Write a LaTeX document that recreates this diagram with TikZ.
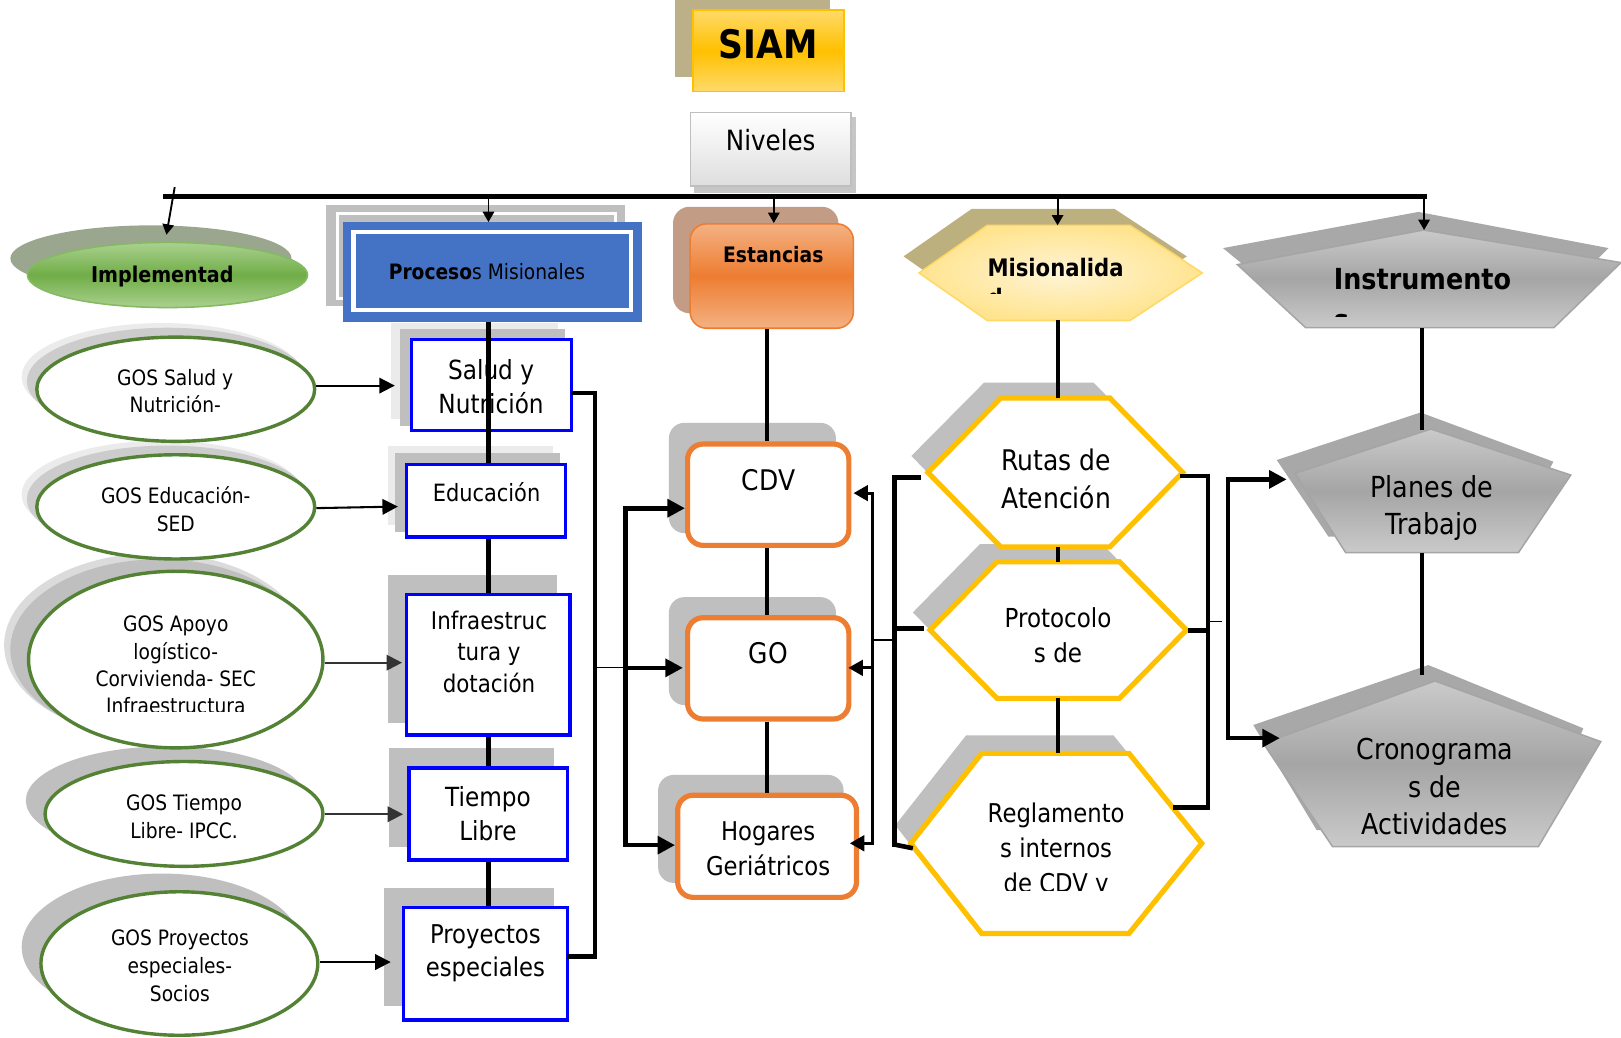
\documentclass[tikz,border=0pt]{standalone}
\usepackage{fontspec}
\setmainfont[FakeStretch=0.88]{DejaVu Sans}
\usetikzlibrary{shapes.geometric,arrows.meta,calc}
\definecolor{siamY}{HTML}{FFC000}
\definecolor{siamL}{HTML}{FFDA6A}
\definecolor{siamSh}{HTML}{BCB088}
\definecolor{nivB}{HTML}{BFBFBF}
\definecolor{nivSh}{HTML}{C6C6C6}
\definecolor{grnD}{HTML}{70AD47}
\definecolor{grnL}{HTML}{AAD18F}
\definecolor{grnSh}{HTML}{9BA68F}
\definecolor{procB}{HTML}{4472C4}
\definecolor{shGray}{HTML}{BFBFBF}
\definecolor{shLight}{HTML}{EBEBEB}
\definecolor{estO}{HTML}{ED7D31}
\definecolor{estL}{HTML}{F4B183}
\definecolor{estSh}{HTML}{C29C85}
\definecolor{misL}{HTML}{FFF4D6}
\definecolor{misD}{HTML}{FFE48F}
\definecolor{misB}{HTML}{FFD966}
\definecolor{misSh}{HTML}{BDB07F}
\definecolor{insL}{HTML}{CACACA}
\definecolor{insD}{HTML}{A5A5A5}
\definecolor{insSh}{HTML}{A8A8A8}
\definecolor{ellB}{HTML}{548235}
\definecolor{boxB}{HTML}{0000FF}
\definecolor{hexB}{HTML}{FFC000}
\newcommand\myfs[2]{\fontsize{#1}{#2}\selectfont}
\begin{document}
\begin{tikzpicture}[x=1pt,y=-1pt,
  vline/.style={line width=4pt},
  bracket/.style={line width=4.5pt, line cap=rect},
  thinl/.style={line width=1.2pt},
  toparr/.style={line width=1.8pt, -{Triangle[length=10pt,width=11pt]}},
  earr/.style={line width=2pt, -{Triangle[length=15pt,width=15pt]}},
  barr/.style={line width=4.5pt, -{Triangle[length=17pt,width=17pt]}},
  rarr/.style={line width=3pt, -{Triangle[length=14pt,width=15pt]}},
  bluebox/.style={rectangle, draw=boxB, line width=3.2pt, fill=white, inner sep=0pt},
  obox/.style={rectangle, rounded corners=15pt, draw=estO, line width=5pt, fill=white, inner sep=0pt},
  gosell/.style={ellipse, draw=ellB, line width=3.3pt, fill=white, inner sep=0pt},
  hexline/.style={draw=hexB, line width=5pt, fill=white},
  pentline/.style={draw=insD, line width=1.5pt, top color=insL, bottom color=insL, middle color=insD},
  lbl/.style={inner sep=0pt, align=center},
  etext/.style={lbl, font=\myfs{20.5}{26.8}},
  btext/.style={lbl, font=\myfs{25.5}{33.5}},
]
\useasboundingbox (0,0) rectangle (1568,1004);
\fill[white] (0,0) rectangle (1568,1004);

% ================= SIAM and Niveles
\fill[siamSh] (653,0) rectangle (803,74);
\node[rectangle, draw=siamY, line width=1.5pt, top color=siamL, bottom color=siamL, middle color=siamY,
      minimum width=146pt, minimum height=79pt, inner sep=0pt] (siam) at (743.5,49) {};
\node[lbl, font=\myfs{38}{40}\bfseries] (siamt) at (743.2,42.6) {SIAM};

\fill[nivSh] (671.5,113) rectangle (828,186.5);
\node[rectangle, draw=nivB, line width=1.5pt, top color=white, bottom color=black!13,
      minimum width=155pt, minimum height=71pt, inner sep=0pt] (niv) at (745.6,144.3) {};
\node[lbl, font=\myfs{27}{30}] (nivt) at (745.5,135.5) {Niveles};

% ================= top level shapes
% Implementad
\fill[grnSh] (146,250) ellipse [x radius=136, y radius=32];
\node[ellipse, draw=grnD!85!white, line width=1.5pt, top color=grnL, bottom color=grnL, middle color=grnD,
      minimum width=271pt, minimum height=63pt, inner sep=0pt] (impl) at (162,266) {};
\node[lbl, font=\myfs{21}{24}\bfseries] (implt) at (157,267.5) {Implementad};

% Procesos Misionales
\fill[shGray] (315.5,198) rectangle (604.6,296);
\draw[white, line width=3pt] (326.5,206.5) rectangle (595,288.5);
\node[rectangle, fill=procB, minimum width=289pt, minimum height=96pt, inner sep=0pt] (proc) at (476.5,263) {};
\draw[white, line width=4pt] (342,224.5) rectangle (610.5,300);
\node[lbl, font=\myfs{20.5}{24}] (proct) at (471,262.8) {\textbf{Proceso}s Misionales};

% Estancias
\fill[estSh, rounded corners=16pt] (651,200) rectangle (811,303);
\node[rectangle, rounded corners=16pt, draw=estO, line width=1.5pt, top color=estL, bottom color=estL, middle color=estO,
      minimum width=158pt, minimum height=101pt, inner sep=0pt] (est) at (746.5,267) {};
\node[lbl, font=\myfs{20.6}{24}\bfseries] (estt) at (748,246.7) {Estancias};

% Misionalidad hexagon
\fill[misSh] (874,248) -- (940,202) -- (1078,202) -- (1148,248) -- (1078,294) -- (940,294) -- cycle;
\path[draw=misB, line width=1.5pt, inner color=misL, outer color=misD]
  (889,264) -- (955,218) -- (1093,218) -- (1163,264) -- (1093,310) -- (955,310) -- cycle;
\coordinate (misTop) at (1023,218);
\coordinate (misBot) at (1023.5,310);
\node[inner sep=0pt, anchor=base west, font=\myfs{23.3}{28}\bfseries] (mist) at (955,267.6) {Misionalida};
\begin{scope}
  \clip (900,270) rectangle (1150,283.7);
  \node[inner sep=0pt, anchor=base west, font=\myfs{23.3}{28}\bfseries] (mist2) at (955,296.7) {d};
\end{scope}

% Instrumentos pentagon
\fill[insSh] (1183,240) -- (1372,205) -- (1556,240) -- (1490,305) -- (1262,305) -- cycle;
\path[pentline] (1377,222.5) -- (1568,254) -- (1503,317) -- (1263,317) -- (1197,256) -- cycle;
\coordinate (insTop) at (1377.5,222.5);
\coordinate (insBot) at (1375.8,317);
\node[inner sep=0pt, anchor=base west, font=\myfs{28}{32}\bfseries] (inst) at (1290,280.5) {Instrumento};
\begin{scope}
  \clip (1250,292) rectangle (1500,306.6);
  \node[inner sep=0pt, anchor=base west, font=\myfs{28}{32}\bfseries] (inst2) at (1290,320) {s};
\end{scope}

% ================= bar and top arrows
\coordinate (barL) at (158,190.3);
\coordinate (barR) at (1380,190.3);
\draw[line width=5pt] (barL) -- (barR);
\coordinate (b1) at (169,181);
\coordinate (implTip) at (161,227);
\coordinate (b2) at (472.5,190.3);
\coordinate (b3) at (748.5,190.3);
\coordinate (b4) at (1023,190.3);
\coordinate (b5) at (1377.5,190.3);
\draw[toparr] (b1) -- (implTip);
\draw[toparr] (b2) -- (b2 |- proc.north);
\draw[toparr] (b3) -- (b3 |- est.north);
\draw[toparr] (b4) -- (misTop);
\draw[toparr] (b5) -- (insTop);

% ================= left column ellipses
\fill[shLight] (157,364.5) ellipse [x radius=136, y radius=52];
\fill[black!20] (162,369) ellipse [x radius=136, y radius=52];
\fill[shLight] (157,478.3) ellipse [x radius=136, y radius=52];
\fill[black!20] (162,483) ellipse [x radius=136, y radius=52];
\fill[black!14] (150,624) ellipse [x radius=146, y radius=89];
\fill[shGray] (154,628) ellipse [x radius=144, y radius=87];
\fill[shGray] (161,774.3) ellipse [x radius=136, y radius=52.3];
\fill[shGray] (156.5,916) ellipse [x radius=135.5, y radius=71];

\node[gosell, minimum width=268.8pt, minimum height=100.8pt] (e1) at (170,376.5) {};
\node[gosell, minimum width=268.8pt, minimum height=100.8pt] (e2) at (170,490.3) {};
\node[gosell, minimum width=284.8pt, minimum height=170.8pt] (e3) at (170,638) {};
\node[gosell, minimum width=268.8pt, minimum height=101.4pt] (e4) at (178,787.3) {};
\node[gosell, minimum width=267.8pt, minimum height=138.8pt] (e5) at (173.5,932) {};

\node[etext] (e1t) at (169.5,378.3) {GOS Salud y\\Nutrición-};
\node[etext] (e2t) at (170,492.7) {GOS Educación-\\SED};
\begin{scope}
  \clip (20,560) rectangle (330,688.4);
  \node[etext, font=\myfs{20.5}{26.5}] (e3t) at (170,643.4) {GOS Apoyo\\logístico-\\Corvivienda- SEC\\Infraestructura};
\end{scope}
\node[etext] (e4t) at (178,789.7) {GOS Tiempo\\Libre- IPCC.};
\node[etext] (e5t) at (174,934) {GOS Proyectos\\especiales-\\Socios};

% ================= blue boxes column
\fill[shLight] (378,312) rectangle (540,405);
\fill[shGray] (387,318) rectangle (547,412);
\fill[shLight] (375,431) rectangle (535,508);
\fill[shGray] (382,438) rectangle (542,514.6);
\fill[shGray] (375,556) rectangle (539,699);
\fill[shGray] (376.6,723.6) rectangle (536,819);
\fill[shGray] (371.6,859) rectangle (536,973);

\node[bluebox, minimum width=154.5pt, minimum height=88pt] (salud) at (475.25,372.5) {};
\node[bluebox, minimum width=153.5pt, minimum height=70pt] (edu) at (470.25,484.5) {};
\node[bluebox, minimum width=158pt, minimum height=136pt] (infra) at (472.5,643) {};
\node[bluebox, minimum width=153.6pt, minimum height=89pt] (tiempo) at (472.3,787.5) {};
\node[bluebox, minimum width=158.6pt, minimum height=108.5pt] (proy) at (469.8,932.25) {};

\node[btext] (saludt) at (475,374) {Salud y\\Nutrición};
\node[btext, font=\myfs{23}{28}] (edut) at (470.6,475.6) {Educación};
\node[btext, font=\myfs{23.5}{30.2}] (infrat) at (473,630.5) {Infraestruc\\tura y\\dotación};
\node[btext, font=\myfs{25.5}{32.4}] (tiempot) at (472,787) {Tiempo\\Libre};
\node[btext, font=\myfs{25}{32.3}] (proyt) at (469.5,922) {Proyectos\\especiales};

% column lines
\draw[vline] (b2 |- proc.south) -- (b2 |- edu.north);
\draw[vline] (b2 |- edu.south) -- (b2 |- infra.north);
\draw[vline] (b2 |- infra.south) -- (b2 |- tiempo.north);
\draw[vline] (b2 |- tiempo.south) -- (b2 |- proy.north);

% ellipse arrows
\draw[earr] (e1.east |- 0,373) -- ($(salud.west |- 0,373)+(-14.5,0)$);
\draw[earr] (e2.east |- 0,491.5) -- ($(edu.west)+(-7,5.5)$);
\draw[earr, black!80] (e3.east |- 0,641) -- ($(infra.west |- 0,641)+(-3,0)$);
\draw[earr, black!80] (e4.east |- 0,787.6) -- ($(tiempo.west |- 0,787.6)+(-4,0)$);
\draw[earr] (e5.east |- 0,930.6) -- ($(proy.west |- 0,930.6)+(-11,0)$);

% procesos right bracket
\coordinate (pbTop) at (575.5,380);
\coordinate (pbBot) at (575.5,925.4);
\coordinate (pbMid) at (575.5,646);
\draw[bracket] (salud.east |- pbTop) -- (pbTop) -- (pbBot) -- (proy.east |- pbBot);

% ================= Estancias column
\fill[shGray, rounded corners=15pt] (647,409) rectangle (808.6,515.7);
\fill[shGray, rounded corners=15pt] (647,577.6) rectangle (808.6,682);
\fill[shGray, rounded corners=15pt] (636.6,749.6) rectangle (816,854);
\node[obox, minimum width=156pt, minimum height=98pt] (cdv) at (743.1,478.5) {};
\node[obox, minimum width=156pt, minimum height=98pt] (go) at (743.1,646.5) {};
\node[obox, minimum width=173pt, minimum height=98.8pt] (hog) at (742,818.6) {};
\node[lbl, font=\myfs{27.5}{32}] (cdvt) at (743.4,464) {CDV};
\node[lbl, font=\myfs{27.5}{32}] (got) at (743.1,632) {GO};
\node[lbl, font=\myfs{25}{33.8}] (hogt) at (743,821) {Hogares\\Geriátricos};

\coordinate (ecol) at (741.5,0);
\draw[vline] (ecol |- est.south) -- (ecol |- cdv.north);
\draw[vline] (ecol |- cdv.south) -- (ecol |- go.north);
\draw[vline] (ecol |- go.south) -- (ecol |- hog.north);

\coordinate (ebTop) at (605,491.6);
\coordinate (ebMid) at (605,646);
\coordinate (ebBot) at (605,817.5);
\draw[thinl] (pbMid) -- (ebMid);
\draw[bracket] (ebTop) -- (ebBot);
\draw[barr] (ebTop) -- (cdv.west |- ebTop);
\draw[barr] (ebMid) -- ($(go.west |- ebMid)+(-2,0)$);
\draw[barr] (ebBot) -- (hog.west |- ebBot);

\coordinate (rlTop) at (844,477);
\coordinate (rlMid) at (844,646);
\coordinate (rlBot) at (844,815.7);
\coordinate (rlThin) at (844,619);
\draw[line width=3pt, line cap=rect] (rlTop) -- (rlBot);
\draw[rarr] (rlTop) -- ($(cdv.east |- rlTop)+(2,0)$);
\draw[rarr] (rlMid) -- ($(go.east |- rlMid)+(-3,0)$);
\draw[rarr] (rlBot) -- ($(hog.east |- rlBot)+(-9,0)$);

% ================= Misionalidad column (hexagons)
\fill[shGray] (881.6,441) -- (952,370) -- (1057.6,370) -- (1128,441) -- (1057.6,514) -- (952,514) -- cycle;
\fill[shGray] (883,592.4) -- (947.9,526.3) -- (1066.3,526.3) -- (1131.1,592.4) -- (1066.3,658.5) -- (947.9,658.5) -- cycle;
\fill[shGray] (866,798.3) -- (934.6,711.2) -- (1077,711.2) -- (1147.4,798.3) -- (1077,885.5) -- (934.6,885.5) -- cycle;

\path[hexline] (897.6,457) -- (968,385) -- (1073.6,385) -- (1144,457) -- (1073.6,529) -- (968,529) -- cycle;
\path[hexline] (899.6,609.4) -- (964.4,543.3) -- (1082.8,543.3) -- (1147.6,609.4) -- (1082.8,675.5) -- (964.4,675.5) -- cycle;
\path[hexline] (881,815.8) -- (949.6,728.7) -- (1092,728.7) -- (1162.4,815.8) -- (1092,903) -- (949.6,903) -- cycle;
\coordinate (rutasTop) at (1023.5,385);
\coordinate (rutasBot) at (1023.5,529);
\coordinate (protTop) at (1023.5,543.3);
\coordinate (protBot) at (1023.5,675.5);
\coordinate (reglTop) at (1023.5,728.7);

\node[lbl, font=\myfs{27.5}{37}] (rutast) at (1021.6,463) {Rutas de\\Atención};
\node[lbl, font=\myfs{25.3}{34}] (prott) at (1023.4,614.5) {Protocolo\\s de};
\begin{scope}
  \clip (890,760) rectangle (1160,861);
  \node[lbl, font=\myfs{25}{33.9}] (reglt) at (1021.6,822.5) {Reglamento\\s internos\\de CDV y};
\end{scope}

\draw[vline] (misBot) -- (rutasTop);
\draw[vline] (rutasBot) -- (protTop);
\draw[vline] (protBot) -- (reglTop);

\coordinate (hlTop) at (865.5,462);
\coordinate (hlMid) at (865.5,607.7);
\coordinate (hlBot) at (865.5,817);
\coordinate (hlTopE) at (888.5,462);
\coordinate (hlMidE) at (893.6,607.7);
\coordinate (hlBotE) at (883,820.5);
\draw[bracket] (hlTopE) -- (hlTop) -- (hlBot);
\draw[line width=4.5pt] (hlMid) -- (hlMidE);
\draw[line width=4.5pt] (hlBot) -- (hlBotE);
\draw[thinl] (rlThin) -- (hlBot |- rlThin);

\coordinate (hrTop) at (1168.6,460.5);
\coordinate (hrBot) at (1168.6,781);
\coordinate (hrMid) at (1168.6,610);
\coordinate (hrTopS) at (1144,460.5);
\coordinate (hrMidS) at (1149,610);
\coordinate (hrBotS) at (1136.6,781);
\draw[bracket] (hrTopS) -- (hrTop) -- (hrBot) -- (hrBotS);
\draw[line width=4.5pt] (hrMidS) -- (hrMid);
\coordinate (hrThin) at (1168.6,601);
\coordinate (hrThinE) at (1182,601);
\draw[thinl] (hrThin) -- (hrThinE);

% ================= Instrumentos column (pentagons)
\fill[insSh] (1374,399) -- (1502.6,446.6) -- (1463.6,519) -- (1285,519) -- (1235,445) -- cycle;
\path[pentline] (1384,415) -- (1519.4,459.5) -- (1468.7,534.6) -- (1301.7,534.6) -- (1252.7,457.8) -- cycle;
\fill[insSh] (1381.6,643.3) -- (1531.5,704.5) -- (1491,806) -- (1273.6,803) -- (1212.3,701.3) -- cycle;
\path[pentline] (1388,658.7) -- (1548.4,717.4) -- (1488,819) -- (1289,819) -- (1222,719) -- cycle;
\coordinate (plTop) at (1375.8,416);
\coordinate (plBot) at (1375.8,535);
\coordinate (crTop) at (1375.8,653);
\node[lbl, font=\myfs{28}{36.5}] (planest) at (1385,491.5) {Planes de\\Trabajo};
\node[lbl, font=\myfs{27.8}{36.5}] (cronot) at (1388,761) {Cronograma\\s de\\Actividades};

\draw[vline] (insBot) -- (plTop);
\draw[vline] (plBot) -- (crTop);

\coordinate (ibTop) at (1188,463.7);
\coordinate (ibBot) at (1188,714);
\coordinate (plLeft) at (1244.6,463.7);
\coordinate (crLeft) at (1238,714);
\draw[bracket] (ibTop) -- (ibBot);
\draw[barr] (ibTop) -- (plLeft);
\draw[barr] (ibBot) -- (crLeft);

\end{tikzpicture}
\end{document}
